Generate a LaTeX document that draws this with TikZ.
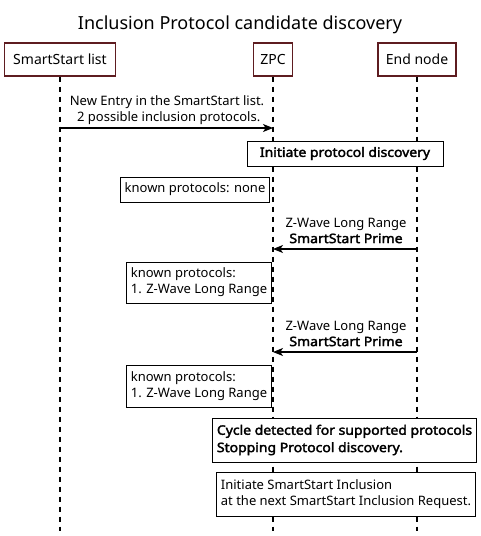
\documentclass[tikz,border=0pt]{standalone}
\usepackage{fontspec}
\setmainfont{Noto Sans}[BoldFont={Noto Sans},BoldFeatures={FakeBold=2.5,FakeStretch=1.075}]
\usetikzlibrary{arrows.meta}
\definecolor{pbord}{RGB}{94,28,32}
\begin{document}
\begin{tikzpicture}[x=0.75pt,y=-0.75pt,
  participant/.style={draw=pbord,line width=1.1pt,fill=white,inner sep=0pt,
    minimum height=24.75pt,font=\fontsize{10.5pt}{12pt}\selectfont},
  lifeline/.style={line width=1.1pt,dash pattern=on 3.75pt off 3.75pt},
  msg/.style={line width=0.8pt,-{Stealth[length=7.5pt,width=6pt,inset=2pt]}},
  msglabel/.style={inner sep=0pt,align=center,font=\fontsize{9.75pt}{12pt}\selectfont},
  notebox/.style={draw=black,line width=0.75pt,fill=white,inner xsep=3pt,inner ysep=0pt,
    align=left,anchor=center,font=\fontsize{9.75pt}{12pt}\selectfont},
  titlestyle/.style={inner sep=0pt,font=\fontsize{13.5pt}{16pt}\selectfont}
]
\useasboundingbox (0,0) rectangle (480,536);
\fill[white] (0,0) rectangle (480,536);

\node[titlestyle] (title) at (240,25) {Inclusion Protocol candidate discovery};

\node[participant,minimum width=83.25pt] (ss) at (60,59.5) {SmartStart list};
\node[participant,minimum width=29.25pt] (zpc) at (273,59.5) {ZPC};
\node[participant,minimum width=58.5pt] (en) at (417,59.5) {End node};

\coordinate (ssend) at (60,531);
\coordinate (zpcend) at (273,531);
\coordinate (enend) at (417,531);

\draw[lifeline] (ss.south) -- (ssend);
\draw[lifeline] (zpc.south) -- (zpcend);
\draw[lifeline] (en.south) -- (enend);

% message 1
\coordinate (m1a) at (60,128);
\coordinate (m1b) at (273,128);
\draw[msg] (m1a) -- (m1b);
\node[msglabel] (l1) at (167,110) {New Entry in the SmartStart list.\\\ 2 possible inclusion protocols.};

\node[notebox,minimum width=147pt,minimum height=18.75pt,align=center,font=\fontsize{9.75pt}{12pt}\selectfont\bfseries] (n1) at (345,153.5) {Initiate protocol discovery};

\node[notebox,minimum width=107.25pt,minimum height=18.75pt] (n2) at (195,189.5) {known protocols: none};

% message 2
\coordinate (m2a) at (417,249);
\coordinate (m2b) at (273,249);
\draw[msg] (m2a) -- (m2b);
\node[msglabel] (l2) at (346,230.5) {Z-Wave Long Range\\\bfseries SmartStart Prime};

\node[notebox,minimum width=105pt,minimum height=30.75pt] (n3) at (199,282.5) {known protocols:\\1. Z-Wave Long Range};

% message 3
\coordinate (m3a) at (417,352);
\coordinate (m3b) at (273,352);
\draw[msg] (m3a) -- (m3b);
\node[msglabel] (l3) at (346,333.5) {Z-Wave Long Range\\\bfseries SmartStart Prime};

\node[notebox,minimum width=105pt,minimum height=32pt] (n4) at (199,386.5) {known protocols:\\1. Z-Wave Long Range};

\node[notebox,minimum width=192.75pt,minimum height=33pt,font=\fontsize{9.75pt}{13pt}\selectfont\bfseries] (n5) at (344.5,440) {Cycle detected for supported protocols\\Stopping Protocol discovery.};

\node[notebox,minimum width=190.5pt,minimum height=33pt] (n6) at (346,494) {Initiate SmartStart Inclusion\\at the next SmartStart Inclusion Request.};
\end{tikzpicture}
\end{document}
